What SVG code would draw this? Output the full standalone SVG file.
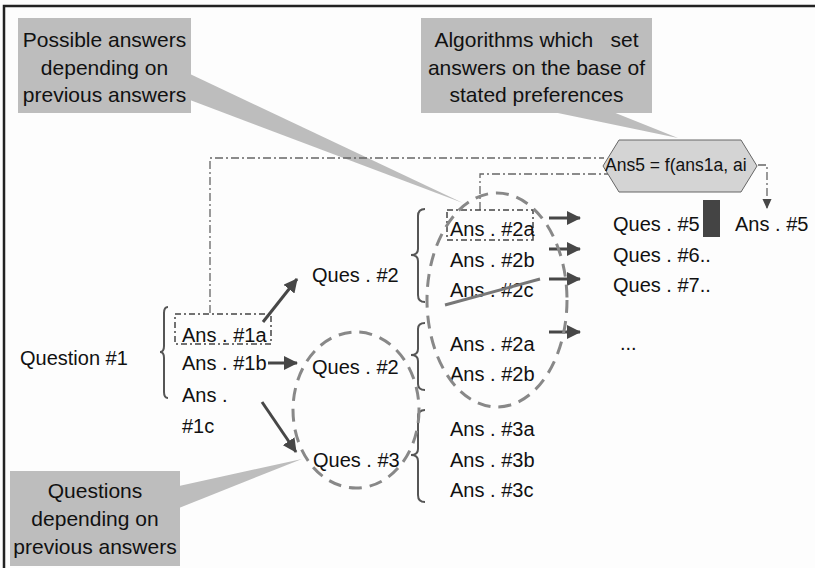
<svg xmlns="http://www.w3.org/2000/svg" width="815" height="568" viewBox="0 0 815 568">
<defs>
<style>
text{font-family:"Liberation Sans",Arial,sans-serif;fill:#111;}
.t{font-size:20px;white-space:pre;}
.c{font-size:21px;text-anchor:middle;white-space:pre;}
.callout{fill:#bdbdbd;}
.arrow{stroke:#474747;stroke-width:3;fill:none;marker-end:url(#ah);}
.dd{stroke:#666;stroke-width:1.3;fill:none;stroke-dasharray:8,3,2,3;}
.ddbox{stroke:#444;stroke-width:1.5;fill:none;stroke-dasharray:6,3,2,3;}
.brace{stroke:#555;stroke-width:2;fill:none;}
.ell{stroke:#888;stroke-width:3;fill:none;stroke-dasharray:13,8;}
</style>
<marker id="ah" viewBox="0 0 14 14" refX="13" refY="7" markerWidth="14" markerHeight="14" markerUnits="userSpaceOnUse" orient="auto">
<path d="M0,0 L14,7 L0,14 z" fill="#474747"/>
</marker>
<marker id="ahs" viewBox="0 0 10 11" refX="10" refY="5" markerWidth="11" markerHeight="10" markerUnits="userSpaceOnUse" orient="auto">
<path d="M0,0 L11,5 L0,10 z" fill="#474747"/>
</marker>
</defs>
<rect x="0" y="0" width="815" height="568" fill="#fdfdfd"/>
<path d="M4,568 V6 H815" stroke="#222" stroke-width="2.5" fill="none"/>

<g id="callout-possible-answers">
<rect class="callout" x="18" y="18" width="173" height="95"/>
<polygon class="callout" points="190,74 463,203 190,100"/>
<text class="c" x="104.5" y="47">Possible answers</text>
<text class="c" x="104.5" y="75">depending on</text>
<text class="c" x="104.5" y="102">previous answers</text>
</g>

<g id="callout-algorithms">
<rect class="callout" x="421" y="18" width="231" height="95"/>
<polygon class="callout" points="553,112 678,138 613,112"/>
<text class="c" x="536.5" y="47">Algorithms which   set</text>
<text class="c" x="536.5" y="75">answers on the base of</text>
<text class="c" x="536.5" y="102">stated preferences</text>
</g>

<g id="callout-questions">
<rect class="callout" x="10" y="471" width="170" height="95"/>
<polygon class="callout" points="179,486 302,459 179,508"/>
<text class="c" x="95" y="498">Questions</text>
<text class="c" x="95" y="526">depending on</text>
<text class="c" x="95" y="554">previous answers</text>
</g>

<g id="connectors">
<path class="dd" d="M210,313 V158 H604"/>
<path class="dd" d="M480,210 V174 H608"/>
<path class="dd" d="M758,165 H767 V208" marker-end="url(#ahs)"/>
<line class="arrow" x1="263" y1="322" x2="297" y2="279"/>
<line class="arrow" x1="268" y1="363" x2="297" y2="363"/>
<line class="arrow" x1="262" y1="402" x2="296" y2="452"/>
<line class="arrow" x1="549" y1="218" x2="580" y2="218"/>
<line class="arrow" x1="549" y1="249" x2="580" y2="249"/>
<line class="arrow" x1="549" y1="279" x2="580" y2="279"/>
<line class="arrow" x1="549" y1="332" x2="580" y2="332"/>
</g>

<g id="hexagon">
<polygon points="603,166 619,140 741,140 757,166 741,192 619,192" fill="#d4d4d4" stroke="#666" stroke-width="1"/>
<text x="605" y="171" style="font-size:17.5px">Ans5 = f(ans1a, ai</text>
</g>

<g id="question1">
<text class="t" x="20" y="365">Question #1</text>
<path class="brace" d="M168,307 Q164,307 164,313 V346 Q164,352 160,352 Q164,352 164,358 V392 Q164,398 168,398"/>
</g>

<g id="answers1">
<rect class="ddbox" x="175" y="314" width="96" height="30"/>
<text class="t" x="182" y="342">Ans . #1a</text>
<text class="t" x="182" y="370">Ans . #1b</text>
<text class="t" x="182" y="402">Ans .</text>
<text class="t" x="182" y="433">#1c</text>
</g>

<g id="ques2-upper">
<text class="t" x="312" y="282">Ques . #2</text>
<path class="brace" d="M425,209 Q418,209 418,216 V249 Q418,255 411,255 Q418,255 418,261 V295 Q418,302 425,302"/>
</g>

<g id="ques2-lower">
<text class="t" x="312" y="374">Ques . #2</text>
<path class="brace" d="M425,323 Q418,323 418,329 V349 Q418,355 411,355 Q418,355 418,361 V384 Q418,390 425,390"/>
</g>

<g id="ques3">
<text class="t" x="313" y="467">Ques . #3</text>
<path class="brace" d="M425,410 Q418,410 418,417 V449 Q418,455 411,455 Q418,455 418,461 V495 Q418,502 425,502"/>
</g>

<g id="circle-questions">
<ellipse class="ell" cx="356" cy="410" rx="63" ry="78"/>
</g>

<g id="answers2-upper">
<rect class="ddbox" x="447" y="210" width="86" height="30"/>
<text class="t" x="450" y="236">Ans . #2a</text>
<text class="t" x="450" y="267">Ans . #2b</text>
<text class="t" x="450" y="297">Ans . #2c</text>
<line x1="445" y1="305" x2="540" y2="279" stroke="#777" stroke-width="3"/>
</g>

<g id="answers2-lower">
<text class="t" x="450" y="351">Ans . #2a</text>
<text class="t" x="450" y="381">Ans . #2b</text>
</g>

<g id="answers3">
<text class="t" x="450" y="436">Ans . #3a</text>
<text class="t" x="450" y="467">Ans . #3b</text>
<text class="t" x="450" y="497">Ans . #3c</text>
</g>

<g id="ellipse-answers">
<ellipse class="ell" cx="497" cy="300" rx="70" ry="107"/>
</g>

<g id="ques5">
<text class="t" x="613" y="231">Ques . #5</text>
<rect x="703" y="200" width="17" height="37" fill="#444"/>
<text class="t" x="735" y="231">Ans . #5</text>
</g>
<g id="ques6"><text class="t" x="613" y="262">Ques . #6..</text></g>
<g id="ques7"><text class="t" x="613" y="292">Ques . #7..</text></g>
<g id="ellipsis"><text class="t" x="620" y="350">...</text></g>
</svg>
